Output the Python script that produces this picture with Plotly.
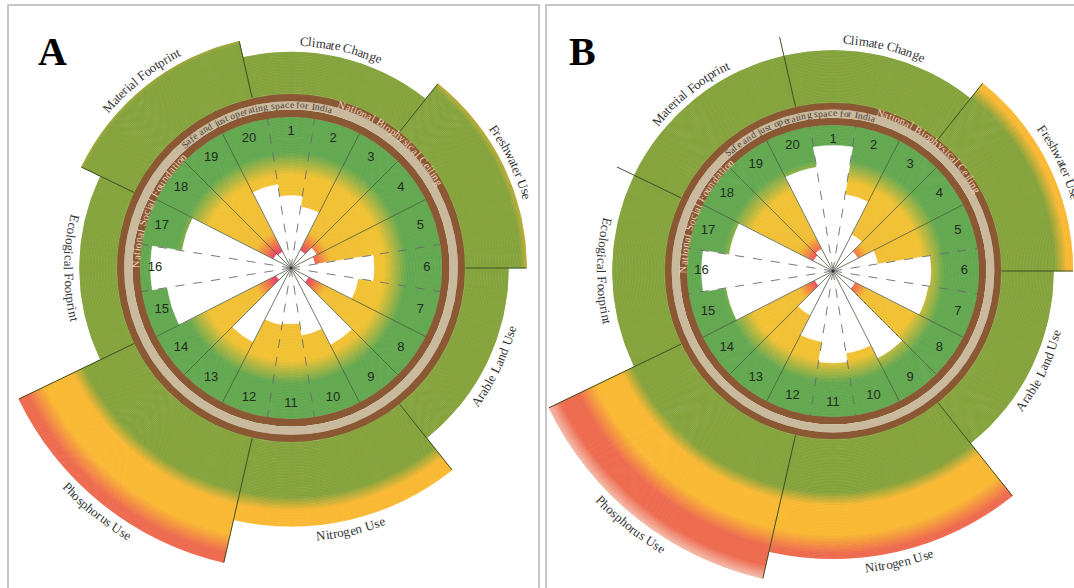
import numpy as np
import plotly.graph_objects as go

W, H = 1074, 588

# ---------------- data ----------------
indicator_ids = [str(i) for i in range(1, 21)]
# social indicators, national social foundation = 100
social_a = [48, 41, 13, 19, 16, 55, 45, 13, 57, 45, 37, 38, 55, 11, 83, 93, 73, 13, 12, 56]
social_b = [86, 53, 28, 19, 31, 67, 66, 17, 67, 57, 63, 49, 34, 14, 74, 90, 72, 15, 17, 72]

boundary_names = ["Climate Change", "Freshwater Use", "Arable Land Use", "Nitrogen Use",
                  "Phosphorus Use", "Ecological Footprint", "Material Footprint"]
# biophysical pressures on the same radial scale (ceiling ring ends at 115.5)
boundary_a = [143, 156, 144, 171, 200, 140, 154]
boundary_b = [151, 166, 151, 197, 216, 151, 151]

# ---------------- styling ----------------
BROWN = "#8b5834"
BEIGE = "#c9b99d"
INNER_STOPS = [(0, "#e3386b"), (13, "#e8416a"), (20, "#f27e45"), (27, "#f1be35"),
               (62, "#f1c234"), (77, "#63a851"), (100, "#63a851")]
OUTER_STOPS = [(0, "#85a33c"), (152, "#85a33c"), (161, "#fab934"), (181, "#fab934"),
               (194, "#ee6b4f"), (207, "#ee6b4f"), (219, "#f6d3c6")]
RINGS = [(100.0, 105.0, BROWN), (105.0, 110.5, BEIGE), (110.5, 115.5, BROWN)]
CEILING = 115.5
DASHED_EDGES = {351, 9, 81, 99, 171, 189, 261, 279}

SERIF = "Liberation Serif"
CW = {' ': 0.25, 'a': 0.444, 'b': 0.5, 'c': 0.444, 'd': 0.5, 'e': 0.444, 'f': 0.333, 'g': 0.5,
      'h': 0.5, 'i': 0.278, 'j': 0.278, 'k': 0.5, 'l': 0.278, 'm': 0.778, 'n': 0.5, 'o': 0.5,
      'p': 0.5, 'q': 0.5, 'r': 0.333, 's': 0.389, 't': 0.278, 'u': 0.5, 'v': 0.5, 'w': 0.722,
      'x': 0.5, 'y': 0.5, 'z': 0.444, 'A': 0.722, 'B': 0.667, 'C': 0.667, 'E': 0.611,
      'F': 0.556, 'I': 0.333, 'L': 0.611, 'M': 0.889, 'N': 0.722, 'P': 0.556, 'S': 0.556,
      'U': 0.722}


def hex2rgb(h):
    h = h.lstrip('#')
    return np.array([int(h[i:i + 2], 16) for i in (0, 2, 4)], dtype=float)


def grad(stops, r):
    for (p0, c0), (p1, c1) in zip(stops[:-1], stops[1:]):
        if r <= p1:
            t = 0 if p1 == p0 else max(0.0, (r - p0) / (p1 - p0))
            c = hex2rgb(c0) * (1 - t) + hex2rgb(c1) * t
            return "rgb(%d,%d,%d)" % tuple(np.round(c))
    c = hex2rgb(stops[-1][1])
    return "rgb(%d,%d,%d)" % tuple(c)


def arc_text(text, cx, cy, r_px, mid_deg, size, color, track=1.0, flip=False):
    widths = [CW.get(c, 0.5) * size * track for c in text]
    span = sum(widths) / r_px
    d = -1 if flip else 1
    start = np.radians(mid_deg) - d * span / 2
    pos, out = 0.0, []
    for c, w in zip(text, widths):
        a = start + d * (pos + w / 2) / r_px
        pos += w
        if c == ' ':
            continue
        x = cx + r_px * np.sin(a)
        y = cy - r_px * np.cos(a)
        ang = np.degrees(a) - (180 if flip else 0)
        ang = (ang + 180) % 360 - 180
        out.append(dict(x=x / W, y=1 - y / H, xref="paper", yref="paper", text=c,
                        showarrow=False, textangle=ang, xanchor="center", yanchor="middle",
                        font=dict(family=SERIF, size=size, color=color)))
    return out


def sector_bbox(a0, a1):
    """Bounding box of a polar sector (counter-clockwise degrees), origin included."""
    c0, s0 = np.cos(np.radians(a0)), np.sin(np.radians(a0))
    c1, s1 = np.cos(np.radians(a1)), np.sin(np.radians(a1))
    y1 = 1 if (a0 <= 90 <= a1) or (a0 > 90 and a1 >= 450) else (0 if s0 <= 0 and s1 <= 0 else max(s0, s1))
    x0 = -1 if (a0 <= 180 <= a1) or (a0 > 180 and a1 >= 540) else (0 if c0 >= 0 and c1 >= 0 else min(c0, c1))
    y0 = -1 if (a0 <= 270 <= a1) or (a0 > 270 and a1 >= 630) else (0 if s0 >= 0 and s1 >= 0 else min(s0, s1))
    x1 = 1 if a1 >= 360 else (0 if c0 <= 0 and c1 <= 0 else max(c0, c1))
    return x0, y0, x1, y1


# panel geometry: centre (px), px per unit, main disc half-size, and an extra
# wide-reach sector (clockwise from north) for the largest pressures
panels = [
    dict(sub="polar", ext="polar3", cx=291, cy=268, scale=1.51, half=262, reach=312,
         ext_range=(191, 248), social=social_a, bound=boundary_a, line_min=0,
         letter="A", lx=52),
    dict(sub="polar2", ext="polar4", cx=833, cy=271, scale=1.46, half=240, reach=316,
         ext_range=(139, 248), social=social_b, bound=boundary_b, line_min=166,
         letter="B", lx=582),
]

fig = go.Figure()
annotations = []
shapes = []
layout_polars = {}
wedge_theta = [i * 18 for i in range(20)]
n_b = len(boundary_names)
sector_w = 360 / n_b
sector_theta = [12.857 + k * sector_w for k in range(n_b)]
hidden_axes = dict(bgcolor="rgba(0,0,0,0)", barmode="overlay", hole=0,
                   angularaxis=dict(rotation=90, direction="clockwise", visible=False))


def in_ext(th, rng):
    return rng[0] <= th % 360 <= rng[1]


for P in panels:
    sub, ext = P["sub"], P["ext"]
    cx, cy, s = P["cx"], P["cy"], P["scale"]

    # subplot placement
    h = P["half"]
    layout_polars[sub] = dict(
        domain=dict(x=[(cx - h) / W, (cx + h) / W], y=[(H - cy - h) / H, (H - cy + h) / H]),
        radialaxis=dict(range=[0, h / s], visible=False), **hidden_axes)
    R = P["reach"]
    g0 = (90 - P["ext_range"][1]) % 360
    g1 = g0 + (P["ext_range"][1] - P["ext_range"][0])
    bx0, by0, bx1, by1 = sector_bbox(g0, g1)
    layout_polars[ext] = dict(
        domain=dict(x=[(cx + R * bx0) / W, (cx + R * bx1) / W],
                    y=[(H - (cy - R * by0)) / H, (H - (cy - R * by1)) / H]),
        sector=[g0, g1], radialaxis=dict(range=[0, R / s], visible=False), **hidden_axes)

    # inner gradient (shortfall -> foundation)
    edges = np.arange(0, 100.001, 1.0)
    cols = [grad(INNER_STOPS, (a + b) / 2) for a, b in zip(edges[:-1], edges[1:])]
    fig.add_trace(go.Barpolar(
        subplot=sub, base=edges[:-1], r=np.diff(edges), theta=[0] * len(cols),
        width=[360] * len(cols), marker=dict(color=cols, line=dict(color=cols, width=0.8)),
        hoverinfo="skip", showlegend=False))
    # social indicator achievement (white wedges)
    fig.add_trace(go.Barpolar(
        subplot=sub, r=P["social"], theta=wedge_theta, width=[18] * 20,
        marker=dict(color="white", line=dict(color="white", width=0.5)),
        hoverinfo="skip", showlegend=False))
    # foundation / safe space / ceiling rings
    fig.add_trace(go.Barpolar(
        subplot=sub, base=[a for a, b, c in RINGS], r=[b - a for a, b, c in RINGS],
        theta=[0] * 3, width=[360] * 3,
        marker=dict(color=[c for a, b, c in RINGS], line=dict(width=0)),
        hoverinfo="skip", showlegend=False))

    # biophysical sectors with radial colour gradient
    for target in (sub, ext):
        bb, rr, tt, cc = [], [], [], []
        for th, val in zip(sector_theta, P["bound"]):
            if in_ext(th, P["ext_range"]) != (target == ext):
                continue
            e = list(np.arange(CEILING, val, 1.0)) + [val]
            for a, b in zip(e[:-1], e[1:]):
                bb.append(a); rr.append(b - a); tt.append(th)
                cc.append(grad(OUTER_STOPS, (a + b) / 2))
        if tt:
            fig.add_trace(go.Barpolar(
                subplot=target, base=bb, r=rr, theta=tt, width=[sector_w] * len(tt),
                marker=dict(color=cc, line=dict(color=cc, width=0.8)),
                hoverinfo="skip", showlegend=False))

    # wedge separators
    rs_d, ts_d, rs_s, ts_s = [], [], [], []
    for k in range(20):
        ang = (k * 18 + 9) % 360
        if ang in DASHED_EDGES:
            rs_d += [0, 100, None]; ts_d += [ang, ang, None]
        else:
            rs_s += [0, 100, None]; ts_s += [ang, ang, None]
    fig.add_trace(go.Scatterpolar(subplot=sub, r=rs_d, theta=ts_d, mode="lines",
                                  line=dict(color="#6b6b6b", width=0.9, dash="dash"),
                                  hoverinfo="skip", showlegend=False))
    fig.add_trace(go.Scatterpolar(subplot=sub, r=rs_s, theta=ts_s, mode="lines",
                                  line=dict(color="#4c5c44", width=0.8),
                                  hoverinfo="skip", showlegend=False))

    # sector separators
    vals = P["bound"]
    for target in (sub, ext):
        rl, tl = [], []
        for k in range(n_b):
            ang = sector_theta[k] - sector_w / 2
            end = max(vals[k], vals[k - 1], P["line_min"])
            big = in_ext(ang, P["ext_range"]) and end * s > P["half"]
            if big != (target == ext):
                continue
            rl += [CEILING, end, None]; tl += [ang, ang, None]
        if tl:
            fig.add_trace(go.Scatterpolar(subplot=target, r=rl, theta=tl, mode="lines",
                                          line=dict(color="#3e5228", width=1),
                                          hoverinfo="skip", showlegend=False))

    # indicator numbers
    fig.add_trace(go.Scatterpolar(subplot=sub, r=[90] * 20, theta=wedge_theta, mode="text",
                                  text=indicator_ids,
                                  textfont=dict(family="Liberation Sans", size=13, color="#222b1c"),
                                  hoverinfo="skip", showlegend=False))
    # centre point
    fig.add_trace(go.Scatterpolar(subplot=sub, r=[0], theta=[0], mode="markers",
                                  marker=dict(size=5, color="#333333",
                                              line=dict(color="#999999", width=1.5)),
                                  hoverinfo="skip", showlegend=False))

    # ring captions
    annotations += arc_text("National Social Foundation", cx, cy, 102.5 * s, 293.5,
                            10.5, "#ecd6c0", track=1.1)
    annotations += arc_text("Safe and just operating space for India", cx, cy, 107.9 * s,
                            346.5, 9.5, "#4a4038", track=1.1)
    annotations += arc_text("National Biophysical Ceiling", cx, cy, 113.0 * s, 38.5,
                            10.5, "#f0d8c4", track=1.09)
    # sector names
    for name, th, val in zip(boundary_names, sector_theta, P["bound"]):
        flip = 90 < th < 270
        annotations += arc_text(name, cx, cy, val * s + 11, th, 13, "#333333", flip=flip)
    # panel letter
    annotations.append(dict(x=P["lx"] / W, y=1 - 52 / H, xref="paper", yref="paper",
                            text="<b>%s</b>" % P["letter"], showarrow=False,
                            xanchor="center", yanchor="middle",
                            font=dict(family=SERIF, size=40, color="black")))

# panel frames
shapes.append(dict(type="rect", xref="paper", yref="paper", x0=8 / W, x1=539 / W,
                   y0=-0.05, y1=1 - 5 / H, line=dict(color="#b5b5b5", width=1.5)))
shapes.append(dict(type="rect", xref="paper", yref="paper", x0=546 / W, x1=1.01,
                   y0=-0.05, y1=1 - 5 / H, line=dict(color="#b5b5b5", width=1.5)))

fig.update_layout(width=W, height=H, margin=dict(l=0, r=0, t=0, b=0),
                  paper_bgcolor="white", plot_bgcolor="white",
                  annotations=annotations, shapes=shapes, **layout_polars)

fig.write_html("out.html")
